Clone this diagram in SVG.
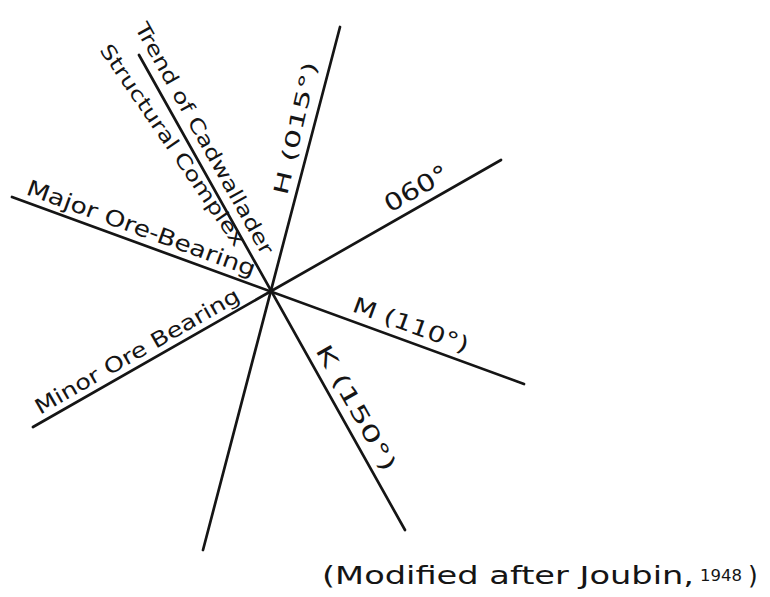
<svg xmlns="http://www.w3.org/2000/svg" width="770" height="597" viewBox="0 0 770 597">
<style>
.ln{stroke:#151515;stroke-width:2.7;stroke-linecap:round;fill:none}
.lb{font-family:"DejaVu Sans","Liberation Sans",sans-serif;fill:#151515;font-size:20px}
</style>
<rect width="770" height="597" fill="#ffffff"/>
<g id="connectors">
<line class="ln" x1="139" y1="55" x2="405" y2="530"/>
<line class="ln" x1="12" y1="197" x2="524" y2="384"/>
<line class="ln" x1="33" y1="427" x2="501" y2="160"/>
<line class="ln" x1="340" y1="27" x2="203" y2="550"/>
</g>
<g id="label-cadwallader">
<text class="lb" transform="translate(134.5,27.5) rotate(60.8)" textLength="262" lengthAdjust="spacingAndGlyphs">Trend of Cadwallader</text>
<text class="lb" transform="translate(99,50) rotate(55.5)" textLength="240" lengthAdjust="spacingAndGlyphs">Structural Complex</text>
</g>
<g id="label-h">
<text class="lb" transform="translate(287,196) rotate(-77)" textLength="136" lengthAdjust="spacingAndGlyphs">H (015°)</text>
</g>
<g id="label-060">
<text class="lb" style="font-size:24px" transform="translate(390,213) rotate(-29.7)" textLength="70" lengthAdjust="spacingAndGlyphs">060°</text>
</g>
<g id="label-m">
<text class="lb" style="font-size:22px" transform="translate(351,311) rotate(20.1)" textLength="122" lengthAdjust="spacingAndGlyphs">M (110°)</text>
</g>
<g id="label-k">
<text class="lb" style="font-size:22px" transform="translate(315,350) rotate(60.7)" textLength="141" lengthAdjust="spacingAndGlyphs">K (150°)</text>
</g>
<g id="label-major">
<text class="lb" style="font-size:22px" transform="translate(25,194) rotate(20)" textLength="242" lengthAdjust="spacingAndGlyphs">Major Ore-Bearing</text>
</g>
<g id="label-minor">
<text class="lb" style="font-size:21px" transform="translate(40,415) rotate(-29.7)" textLength="232" lengthAdjust="spacingAndGlyphs">Minor Ore Bearing</text>
</g>
<g id="caption">
<text class="lb" style="font-size:25px" x="322" y="584" textLength="372" lengthAdjust="spacingAndGlyphs">(Modified after Joubin,</text>
<text class="lb" style="font-size:15px" x="700" y="581" textLength="42" lengthAdjust="spacingAndGlyphs">1948</text>
<text class="lb" style="font-size:25px" x="748" y="584">)</text>
</g>
</svg>
